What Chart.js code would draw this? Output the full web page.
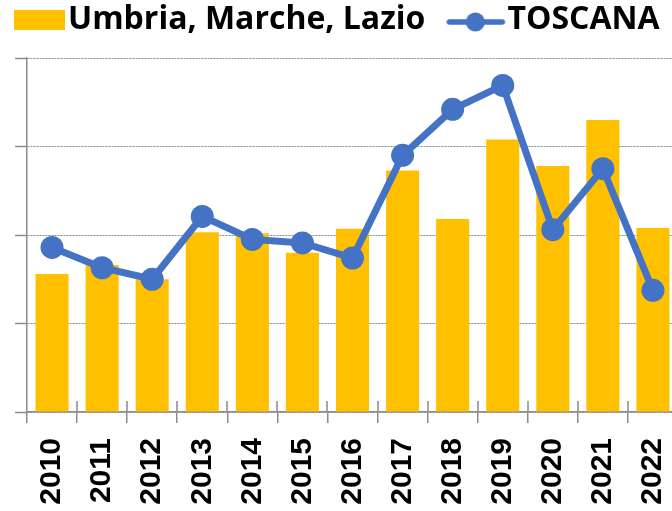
<!DOCTYPE html>
<html>
<head>
<meta charset="utf-8">
<script src="https://cdn.jsdelivr.net/npm/chart.js@4"></script>
<style>
  html, body { margin: 0; padding: 0; background: #fff; overflow: hidden; }
  #wrap { width: 680px; height: 511px; }
</style>
</head>
<body>
<div id="wrap"><canvas id="chart" width="680" height="511"></canvas></div>
<script>
// data (y axis has no labels, so units are arbitrary)
const years = ["2010", "2011", "2012", "2013", "2014", "2015", "2016",
               "2017", "2018", "2019", "2020", "2021", "2022"];
const umbriaMarcheLazio = [1.56, 1.66, 1.50, 2.03, 2.02, 1.80, 2.07, 2.73, 2.18, 3.08, 2.78, 3.30, 2.08];
const toscana = [1.86, 1.63, 1.50, 2.21, 1.95, 1.91, 1.74, 2.90, 3.42, 3.69, 2.06, 2.75, 1.375];
const yMin = 0;
const yMax = 4;
const yStep = 1;

const ORANGE = "#FFC000";
const BLUE = "#4472C4";
const GREY = "#8c8c8c";

// legend symbols, drawn like the office-style legend (box / line with marker)
// chart.js centres the image on the legend box, so symbols sit right of centre
function legendSymbol(kind) {
  const c = document.createElement("canvas");
  c.width = 80;
  c.height = 30;
  const g = c.getContext("2d");
  if (kind === "bar") {
    g.fillStyle = ORANGE;
    g.fillRect(27, 5, 51, 20);
  } else {
    g.strokeStyle = BLUE;
    g.lineWidth = 5.5;
    g.lineCap = "round";
    g.beginPath();
    g.moveTo(23, 17);
    g.lineTo(76, 17);
    g.stroke();
    g.fillStyle = BLUE;
    g.beginPath();
    g.arc(49, 17, 9.5, 0, Math.PI * 2);
    g.fill();
  }
  return c;
}

// legend sits higher than chart.js would put it; give the rest of the gap back
const legendGap = {
  id: "legendGap",
  beforeInit(chart) {
    const fit = chart.legend.fit;
    chart.legend.fit = function () {
      fit.call(this);
      this.height = 70;
    };
  },
};

// office-style crossing tick marks on the category axis (upper half)
const crossTicks = {
  id: "crossTicks",
  afterDatasetsDraw(chart) {
    const xs = chart.scales.x;
    const c = chart.ctx;
    const y0 = chart.chartArea.bottom;
    c.save();
    c.strokeStyle = GREY;
    c.lineWidth = 1.5;
    c.beginPath();
    for (let i = 1; i < years.length; i++) {
      const x = Math.round((xs.getPixelForTick(i - 1) + xs.getPixelForTick(i)) / 2);
      c.moveTo(x, y0 - 11);
      c.lineTo(x, y0);
    }
    c.stroke();
    c.restore();
  },
};

const ctx = document.getElementById("chart").getContext("2d");
const chart = new Chart(ctx, {
  type: "bar",
  data: {
    labels: years,
    datasets: [
      {
        type: "bar",
        label: "Umbria, Marche, Lazio",
        data: umbriaMarcheLazio,
        backgroundColor: ORANGE,
        borderWidth: 0,
        categoryPercentage: 1,
        barPercentage: 0.66,
        order: 1,
      },
      {
        type: "line",
        label: "TOSCANA",
        data: toscana,
        borderColor: BLUE,
        backgroundColor: BLUE,
        borderWidth: 7,
        pointRadius: 11.5,
        pointBorderWidth: 0,
        pointBackgroundColor: BLUE,
        tension: 0,
        fill: false,
        order: 0,
      },
    ],
  },
  plugins: [legendGap, crossTicks],
  options: {
    responsive: false,
    animation: false,
    layout: {
      autoPadding: false,
      padding: { left: -14, right: 2, top: -12, bottom: 0 },
    },
    plugins: {
      tooltip: { enabled: false },
      legend: {
        position: "top",
        align: "start",
        labels: {
          usePointStyle: true,
          pointStyleWidth: 50,
          padding: 16,
          color: "#000",
          font: { family: "'Open Sans'", size: 32, weight: "bold" },
          generateLabels: () => [
            {
              text: "Umbria, Marche, Lazio",
              pointStyle: legendSymbol("bar"),
              fillStyle: ORANGE,
              strokeStyle: ORANGE,
              lineWidth: 0,
              hidden: false,
              datasetIndex: 0,
              fontColor: "#000",
            },
            {
              text: "TOSCANA",
              pointStyle: legendSymbol("line"),
              fillStyle: BLUE,
              strokeStyle: BLUE,
              lineWidth: 0,
              hidden: false,
              datasetIndex: 1,
              fontColor: "#000",
            },
          ],
        },
      },
    },
    scales: {
      x: {
        afterFit(scale) {
          // the rotated last label may run off the edge, as in the original
          scale.height = 99;
          scale.paddingLeft = 0;
          scale.paddingRight = 0;
        },
        grid: {
          display: true,
          drawOnChartArea: false,
          drawTicks: true,
          tickLength: 11,
          tickColor: GREY,
          lineWidth: 1.5,
          offset: true,
        },
        border: { display: true, color: GREY, width: 1.5 },
        ticks: {
          color: "#000",
          font: { family: "'Liberation Sans'", size: 30, weight: "bold" },
          minRotation: 90,
          maxRotation: 90,
          padding: 15,
          autoSkip: false,
        },
      },
      y: {
        min: yMin,
        max: yMax,
        afterFit(scale) {
          scale.width = 41;
        },
        grid: {
          color: "#8a8a8a",
          lineWidth: 1,
          drawTicks: true,
          tickLength: 12,
          tickColor: GREY,
          tickWidth: 1.5,
          tickBorderDash: [],
        },
        border: { display: true, color: GREY, width: 1.5, dash: [2, 1] },
        ticks: { display: false, stepSize: yStep },
      },
    },
  },
});
</script>
</body>
</html>
